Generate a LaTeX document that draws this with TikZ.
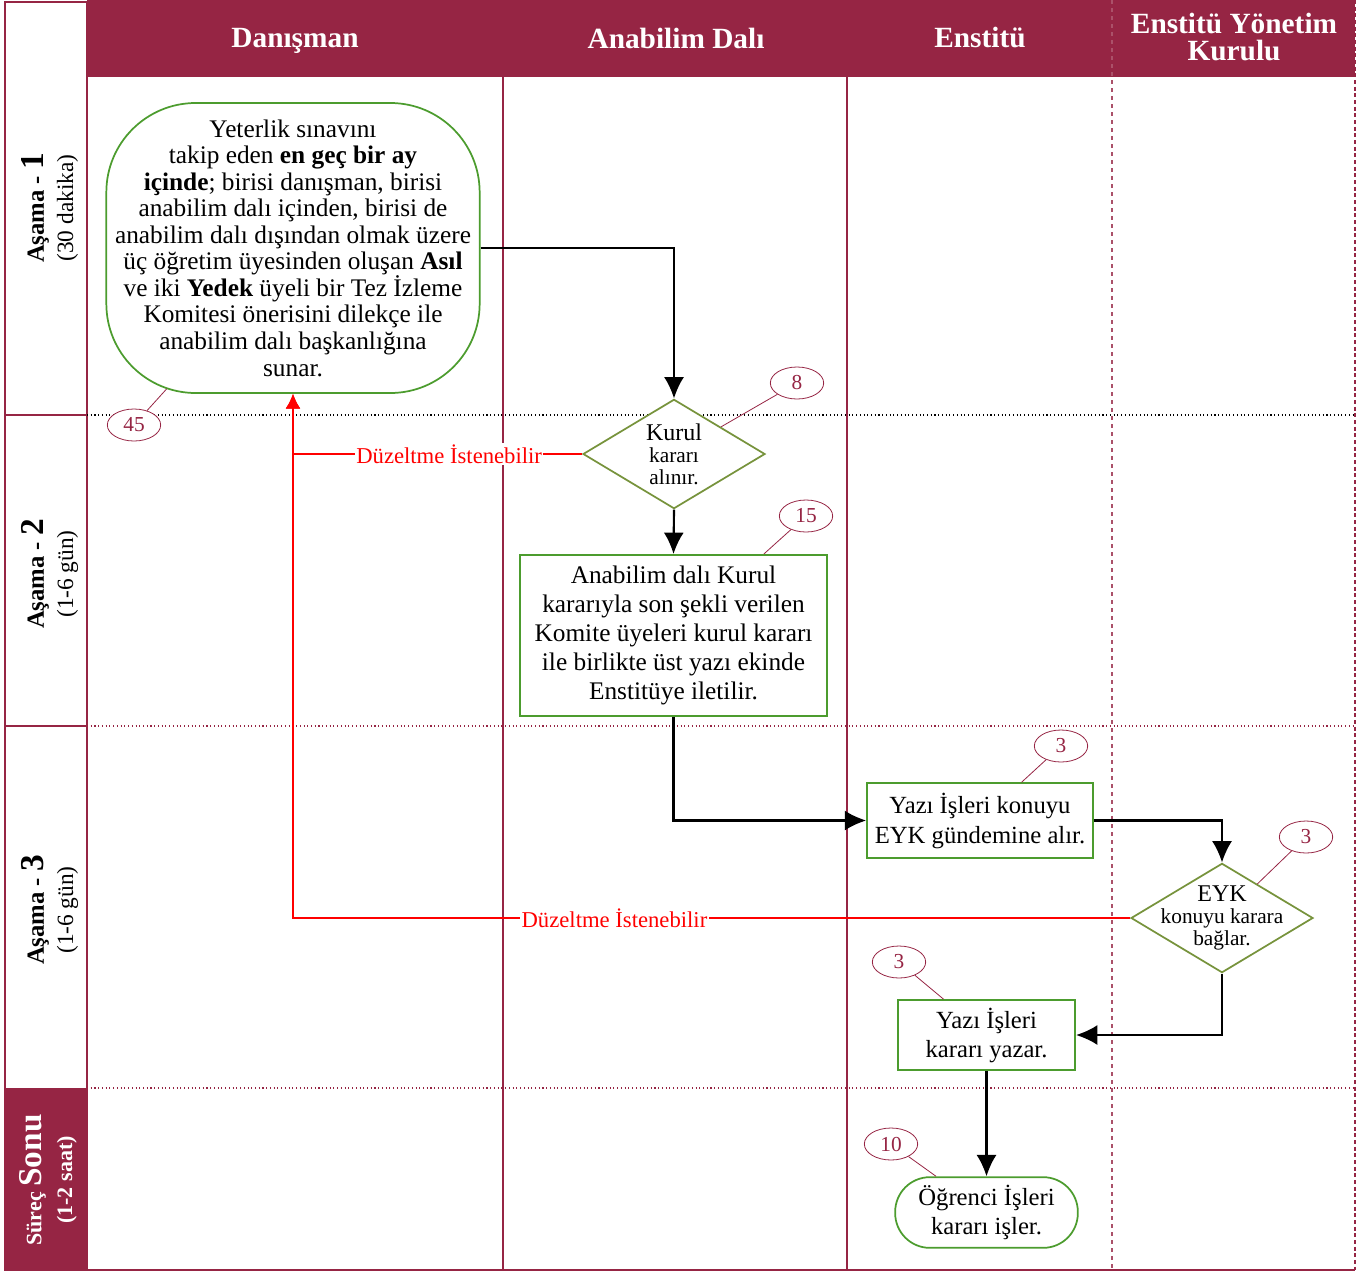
\documentclass[tikz,border=0pt]{standalone}
\usepackage{fontspec}
\setmainfont{Liberation Serif}
\usepackage{tikz}
\usetikzlibrary{arrows.meta,shapes.geometric,positioning,calc}
\definecolor{bordo}{RGB}{150,37,68}
\definecolor{cizgiyesil}{RGB}{76,156,46}
\definecolor{zeytin}{RGB}{119,147,60}
\newcommand{\fs}[2]{\fontsize{#1}{#2}\selectfont}

\begin{document}
\begin{tikzpicture}[x=0.75pt,y=-0.75pt]
\tikzstyle{kutu}=[rectangle, draw=cizgiyesil, line width=1.3pt, fill=white, align=center, inner sep=0pt, font=\fs{18.5}{21.75}]
\tikzstyle{uc}=[kutu, rounded corners=26pt]
\tikzstyle{karar}=[diamond, aspect=1.67, draw=zeytin, line width=1.3pt, fill=white, align=center, inner xsep=-16pt, inner ysep=-9pt, minimum width=136.5pt, minimum height=82pt, font=\fs{16}{16.5}]
\tikzstyle{sure}=[ellipse, draw=bordo, text=bordo, line width=0.6pt, fill=white, minimum width=40pt, minimum height=24pt, inner sep=0pt, font=\fs{16}{16}]
\tikzstyle{bag}=[draw=bordo, line width=0.6pt]
\tikzstyle{connect}=[-{Latex[length=16pt,width=15pt]}, line width=1.6pt]
\tikzstyle{geri}=[-{Latex[length=11pt,width=11pt]}, red, line width=1pt]
\tikzstyle{baslik}=[text=white, align=center, font=\bfseries\fs{22}{20}]
\tikzstyle{asama}=[rotate=90, align=center, font=\fs{17.5}{22}]
\tikzstyle{etiket}=[red, fill=white, inner sep=1pt, font=\fs{17}{17}]

\useasboundingbox (0,0) rectangle (1366,1271);

  % lanes
  \fill[bordo] (87,0) rectangle (1355,77);
  \draw[bordo, line width=1.2pt] (5,2) rectangle (87,1270);
  \draw[bordo, line width=1.2pt] (5,415) -- (87,415) (5,726) -- (87,726);
  \fill[bordo] (5,1088) rectangle (87,1270);
  \draw[bordo, line width=1pt] (503,77) -- (503,1270) (847,77) -- (847,1270) (87,1270) -- (1355,1270);
  \draw[bordo!80, dashed, line width=0.8pt] (1112,0) -- (1112,1270);
  \draw[bordo, densely dashed, line width=1pt] (1355,0) -- (1355,1270);
  \draw[black, dotted, line width=0.8pt] (87,415) -- (1355,415);
  \draw[bordo, dotted, line width=0.8pt] (87,726) -- (1355,726) (87,1088) -- (1355,1088);

  \node[baslik] (danisman) at (295,41)  {Danışman};
  \node[baslik] (abd)      at (676,38)  {Anabilim Dalı};
  \node[baslik] (enstitu)  at (980,38)  {Enstitü};
  \node[baslik] (eyk)      at (1234,37) {Enstitü Yönetim\\Kurulu};

  \node[asama] (asama1) at (50,208) {{\bfseries\fs{18.5}{22}Aşama - }{\bfseries\fs{25}{22}1}\\(30 dakika)};
  \node[asama] (asama2) at (50,574) {{\bfseries\fs{18.5}{22}Aşama - }{\bfseries\fs{25}{22}2}\\(1-6 gün)};
  \node[asama] (asama3) at (50,910) {{\bfseries\fs{18.5}{22}Aşama - }{\bfseries\fs{25}{22}3}\\(1-6 gün)};
  \node[asama, text=white, font=\bfseries\fs{16.5}{23}] (surec) at (48,1180) {Süreç {\fs{25}{23}Sonu}\\(1-2 saat)};

  % steps
  \node[kutu, rounded corners=67pt, minimum width=280pt, minimum height=217.5pt, font=\fs{19}{19.9}] (start) at (293,248)
    {Yeterlik sınavını\\takip eden \textbf{en geç bir ay}\\\textbf{içinde}; birisi danışman, birisi\\anabilim dalı içinden, birisi de\\anabilim dalı dışından olmak üzere\\üç öğretim üyesinden oluşan \textbf{Asıl}\\ve iki \textbf{Yedek} üyeli bir Tez İzleme\\Komitesi önerisini dilekçe ile\\anabilim dalı başkanlığına\\sunar.};
  \node[karar] (kurul) at (674,454) {{\fs{18}{16.5}Kurul}\\kararı\\alınır.};
  \node[kutu, minimum width=230pt, minimum height=121pt, font=\fs{19}{21.75}] (ilet) at (673.5,635.5)
    {Anabilim dalı Kurul\\kararıyla son şekli verilen\\Komite üyeleri kurul kararı\\ile birlikte üst yazı ekinde\\Enstitüye iletilir.};
  \node[kutu, minimum width=169.5pt, minimum height=56pt, font=\fs{18.5}{22.5}] (gundem) at (980,820.5) {Yazı İşleri konuyu\\EYK gündemine alır.};
  \node[karar] (baglar) at (1222,918) {{\fs{18}{16.5}EYK}\\konuyu karara\\bağlar.};
  \node[kutu, minimum width=133pt, minimum height=52.5pt] (yazar) at (986.5,1035) {Yazı İşleri\\kararı yazar.};
  \node[uc, minimum width=137pt, minimum height=53pt] (isler) at (986.5,1212.5) {Öğrenci İşleri\\kararı işler.};

  % durations
  \node[sure] (s45) at (134,425)  {45};
  \node[sure] (s8)  at (797,383)  {8};
  \node[sure] (s15) at (806,516)  {15};
  \node[sure] (s3a) at (1061,746) {3};
  \node[sure] (s3b) at (1306,837) {3};
  \node[sure] (s3c) at (899,962)  {3};
  \node[sure] (s10) at (891,1144) {10};

  \draw[bag, shorten >=-5pt] (s45) -- (start);
  \draw[bag] (s8) -- (kurul);
  \draw[bag] (s15) -- (ilet);
  \draw[bag] (s3a) -- (gundem);
  \draw[bag] (s3b) -- (baglar);
  \draw[bag] (s3c) -- (yazar);
  \draw[bag] (s10) -- (isler);

  % flow
  \draw[connect] (start.east) -| (kurul.north);
  \path (kurul.south) edge [connect] (ilet.north);
  \draw[connect] (ilet.south) |- (gundem.west);
  \draw[connect] (gundem.east) -| (baglar.north);
  \draw[connect] (baglar.south) |- (yazar.east);
  \path (yazar.south) edge [connect] (isler.north);

  \draw[geri] (baglar.west) -| node[etiket, pos=0.308] {Düzeltme İstenebilir} (start.south);
  \draw[geri] (kurul.west) -| node[etiket, pos=0.23] {Düzeltme İstenebilir} (start.south);

\end{tikzpicture}
\end{document}
